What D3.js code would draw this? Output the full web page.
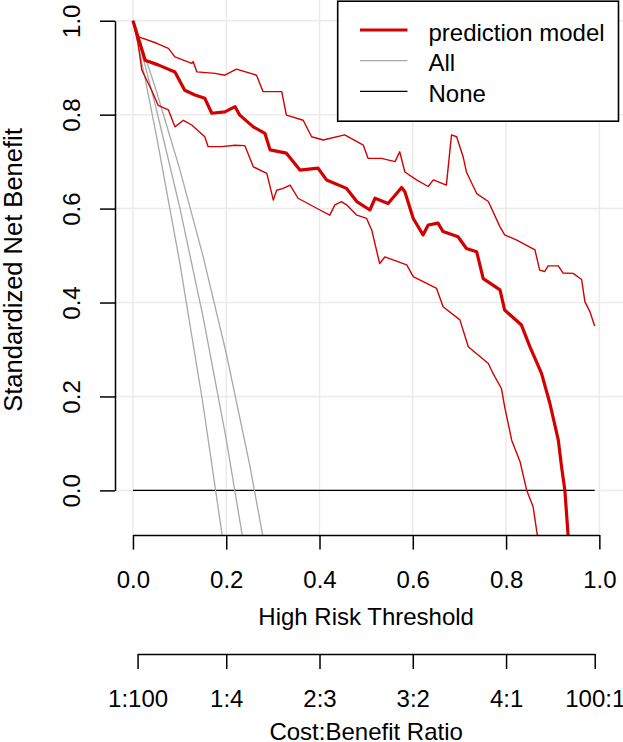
<!DOCTYPE html>
<html>
<head>
<meta charset="utf-8">
<script src="https://cdn.jsdelivr.net/npm/d3@7"></script>
<style>
  body { margin: 0; background: #fff; }
  svg text { font-family: "Liberation Sans", Arial, sans-serif; fill: #000; }
</style>
</head>
<body>
<div id="chart"></div>
<script>
// thresholds and standardized net benefit
const modelX = [0, 0.015, 0.026, 0.054, 0.090, 0.111, 0.133, 0.154, 0.169, 0.197, 0.219, 0.229, 0.258, 0.283, 0.294, 0.329, 0.358, 0.397, 0.415, 0.458, 0.480, 0.508, 0.519, 0.547, 0.576, 0.583, 0.601, 0.622, 0.633, 0.654, 0.665, 0.697, 0.715, 0.737, 0.751, 0.787, 0.797, 0.833, 0.851, 0.876, 0.894, 0.912, 0.919, 0.926, 0.933, 0.940];
const modelY = [1.000, 0.952, 0.916, 0.906, 0.891, 0.852, 0.842, 0.835, 0.803, 0.806, 0.817, 0.799, 0.774, 0.760, 0.725, 0.718, 0.682, 0.686, 0.661, 0.643, 0.615, 0.597, 0.622, 0.611, 0.645, 0.636, 0.579, 0.544, 0.565, 0.569, 0.551, 0.540, 0.515, 0.508, 0.451, 0.427, 0.384, 0.352, 0.306, 0.249, 0.185, 0.107, 0.050, 0.001, -0.095, -0.2];

const upperX = [0, 0.011, 0.051, 0.076, 0.090, 0.126, 0.129, 0.137, 0.176, 0.197, 0.222, 0.265, 0.279, 0.319, 0.329, 0.365, 0.383, 0.408, 0.454, 0.494, 0.504, 0.533, 0.562, 0.572, 0.583, 0.608, 0.633, 0.644, 0.672, 0.683, 0.694, 0.708, 0.715, 0.737, 0.762, 0.787, 0.797, 0.823, 0.862, 0.872, 0.883, 0.890, 0.912, 0.922, 0.944, 0.962, 0.969, 0.980, 0.990];
const upperY = [1.000, 0.966, 0.952, 0.941, 0.923, 0.909, 0.913, 0.891, 0.888, 0.884, 0.897, 0.884, 0.849, 0.849, 0.799, 0.788, 0.753, 0.746, 0.757, 0.735, 0.707, 0.707, 0.700, 0.721, 0.678, 0.661, 0.647, 0.661, 0.650, 0.757, 0.753, 0.710, 0.678, 0.632, 0.615, 0.561, 0.544, 0.533, 0.512, 0.469, 0.466, 0.478, 0.478, 0.463, 0.462, 0.449, 0.402, 0.380, 0.350];

const lowerX = [0, 0.011, 0.019, 0.040, 0.054, 0.076, 0.090, 0.108, 0.126, 0.154, 0.161, 0.190, 0.219, 0.240, 0.258, 0.287, 0.301, 0.308, 0.322, 0.337, 0.354, 0.401, 0.422, 0.433, 0.447, 0.458, 0.480, 0.501, 0.512, 0.529, 0.540, 0.587, 0.601, 0.651, 0.665, 0.701, 0.719, 0.762, 0.772, 0.790, 0.797, 0.812, 0.830, 0.844, 0.858, 0.867, 0.875];
const lowerY = [1.000, 0.952, 0.895, 0.852, 0.820, 0.810, 0.774, 0.788, 0.778, 0.753, 0.732, 0.732, 0.735, 0.734, 0.689, 0.675, 0.618, 0.639, 0.643, 0.650, 0.622, 0.597, 0.586, 0.608, 0.615, 0.608, 0.586, 0.579, 0.554, 0.483, 0.497, 0.480, 0.455, 0.430, 0.391, 0.363, 0.306, 0.270, 0.249, 0.217, 0.178, 0.107, 0.061, 0.001, -0.035, -0.095, -0.2];

// "All" (treat everyone) with its interval
const allX = [0, 0.025, 0.05, 0.1, 0.15, 0.2, 0.25, 0.3];
const allLowY = [1, 0.882, 0.757, 0.487, 0.185, -0.155, -0.539, -0.979];
const allMidY = [1, 0.909, 0.812, 0.604, 0.371, 0.109, -0.189, -0.528];
const allHighY = [1, 0.927, 0.851, 0.685, 0.500, 0.292, 0.056, -0.213];

// "None"
const noneX = [0, 0.99];
const noneY = [0, 0];

const xTicks = [0, 0.2, 0.4, 0.6, 0.8, 1.0];
const yTicks = [0, 0.2, 0.4, 0.6, 0.8, 1.0];
const ratioTicks = [1 / 101, 0.2, 0.4, 0.6, 0.8, 100 / 101];
const ratioLabels = ["1:100", "1:4", "2:3", "3:2", "4:1", "100:1"];
const legendLabels = ["prediction model", "All", "None"];

const W = 623, H = 742;
const FONT = 24;
const RED = "#d20000", GREY = "#a8a8a8";

const svg = d3.select("#chart").append("svg")
    .attr("width", W)
    .attr("height", H);

// plot region (R usr with 4% padding)
const x = d3.scaleLinear().domain([-0.04, 1.04]).range([114.3, 618]);
const y = d3.scaleLinear().domain([-0.095, 1.042]).range([535, 1]);

svg.append("clipPath").attr("id", "plotclip")
  .append("rect")
    .attr("x", x(-0.04)).attr("y", 0)
    .attr("width", x(1.04) - x(-0.04))
    .attr("height", y(-0.095));

// grid
const grid = svg.append("g").attr("stroke", "#ebebeb").attr("stroke-width", 1.5);
grid.selectAll("line.v").data(xTicks).enter().append("line")
    .attr("x1", d => x(d)).attr("x2", d => x(d))
    .attr("y1", 0).attr("y2", y(-0.095));
grid.selectAll("line.h").data(yTicks).enter().append("line")
    .attr("x1", x(-0.04)).attr("x2", W)
    .attr("y1", d => y(d)).attr("y2", d => y(d));

const line = d3.line().x(d => x(d[0])).y(d => y(d[1]));
const zip = (a, b) => a.map((v, i) => [v, b[i]]);

const plot = svg.append("g").attr("clip-path", "url(#plotclip)")
    .attr("fill", "none").attr("stroke-linejoin", "round");

// None
plot.append("path").datum(zip(noneX, noneY))
    .attr("d", line).attr("stroke", "#000").attr("stroke-width", 1.4);

// All + interval
[allLowY, allMidY, allHighY].forEach(ys => {
    plot.append("path").datum(zip(allX, ys))
        .attr("d", line).attr("stroke", GREY).attr("stroke-width", 1.3);
});

// model interval
[[upperX, upperY], [lowerX, lowerY]].forEach(([xs, ys]) => {
    plot.append("path").datum(zip(xs, ys))
        .attr("d", line).attr("stroke", RED).attr("stroke-width", 1.4);
});

// model
plot.append("path").datum(zip(modelX, modelY))
    .attr("d", line).attr("stroke", RED).attr("stroke-width", 3.2);

// x axis
const xAxisScale = x.copy().domain([0, 1]).range([x(0), x(1)]);
const xAxis = svg.append("g")
    .attr("transform", `translate(0, ${y(-0.095)})`)
    .call(d3.axisBottom(xAxisScale).tickValues(xTicks).tickFormat(d3.format(".1f"))
        .tickSize(14.6).tickSizeOuter(0).tickPadding(21.5));

// y axis, labels turned like R's las = 0
const yAxisScale = y.copy().domain([0, 1]).range([y(0), y(1)]);
const yAxis = svg.append("g")
    .attr("transform", `translate(${x(-0.04) + 0.7}, 0)`)
    .call(d3.axisLeft(yAxisScale).tickValues(yTicks).tickFormat(d3.format(".1f"))
        .tickSize(15).tickSizeOuter(0));
yAxis.selectAll(".tick text")
    .attr("transform", "rotate(-90)")
    .attr("x", 0).attr("y", -35).attr("dy", 0)
    .attr("text-anchor", "middle");

// cost:benefit axis
const ratioScale = x.copy().domain([1 / 101, 100 / 101]).range([x(1 / 101), x(100 / 101)]);
const ratioAxis = svg.append("g")
    .attr("transform", "translate(0, 654)")
    .call(d3.axisBottom(ratioScale).tickValues(ratioTicks).tickFormat((d, i) => ratioLabels[i])
        .tickSize(15).tickSizeOuter(0).tickPadding(20.5));

[xAxis, yAxis, ratioAxis].forEach(g => {
    g.selectAll("path.domain").attr("stroke", "#000").attr("stroke-width", 1.5);
    g.selectAll(".tick line").attr("stroke", "#000").attr("stroke-width", 1.5);
    g.selectAll("text").attr("font-size", FONT).attr("font-family", null).attr("fill", "#000");
});

// axis titles
svg.append("text")
    .attr("x", (x(0) + x(1)) / 2).attr("y", 625)
    .attr("text-anchor", "middle").attr("font-size", FONT)
    .text("High Risk Threshold");

svg.append("text")
    .attr("x", (x(0) + x(1)) / 2).attr("y", 739.5)
    .attr("text-anchor", "middle").attr("font-size", FONT)
    .text("Cost:Benefit Ratio");

svg.append("text")
    .attr("transform", "translate(21.5, 270) rotate(-90)")
    .attr("text-anchor", "middle").attr("font-size", 25.5)
    .text("Standardized Net Benefit");

// legend
const legend = svg.append("g");
legend.append("rect")
    .attr("x", 337.7).attr("y", 1.2)
    .attr("width", 618.5 - 337.7).attr("height", 120)
    .attr("fill", "#fff").attr("stroke", "#000").attr("stroke-width", 1.6);

const legendStyle = [
    { color: RED, width: 3.2 },
    { color: GREY, width: 1.3 },
    { color: "#000", width: 1.4 }
];
const rows = legend.selectAll("g.row").data(legendLabels).enter().append("g")
    .attr("transform", (d, i) => `translate(0, ${30 + i * 30.7})`);
rows.append("line")
    .attr("x1", 360).attr("x2", 407.5)
    .attr("stroke", (d, i) => legendStyle[i].color)
    .attr("stroke-width", (d, i) => legendStyle[i].width);
rows.append("text")
    .attr("x", 428.5).attr("y", 10.5)
    .attr("font-size", FONT)
    .text(d => d);
</script>
</body>
</html>
